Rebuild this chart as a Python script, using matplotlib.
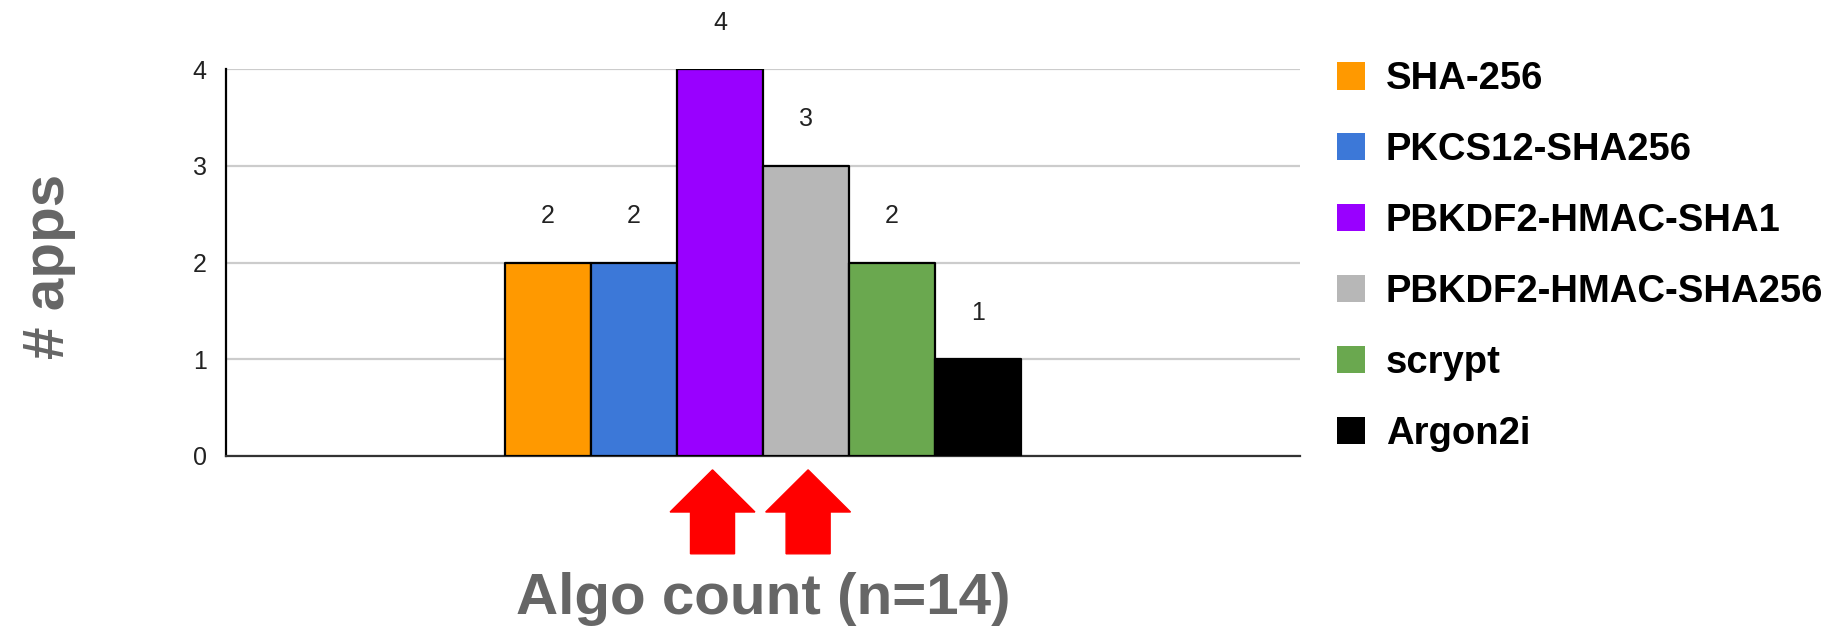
import numpy as np
import matplotlib.pyplot as plt
from matplotlib.patches import FancyArrow, Patch
import matplotlib.transforms as mtransforms

plt.rcParams['font.family'] = ['Liberation Sans', 'DejaVu Sans']

algos = ['SHA-256', 'PKCS12-SHA256', 'PBKDF2-HMAC-SHA1', 'PBKDF2-HMAC-SHA256', 'scrypt', 'Argon2i']
counts = [2, 2, 4, 3, 2, 1]
colors = ['#ff9900', '#3c78d8', '#9900ff', '#b7b7b7', '#6aa84f', '#000000']
highlighted = ['PBKDF2-HMAC-SHA1', 'PBKDF2-HMAC-SHA256']
arrow_nudge = [-0.007, 0.002]

fig = plt.figure(figsize=(18.37, 6.28), dpi=100)
ax = fig.add_axes([0.123, 0.274, 0.5847, 0.616])

bw = 0.08
offsets = (np.arange(len(algos)) - (len(algos) - 1) / 2) * bw
for x, v, c in zip(offsets, counts, colors):
    ax.bar(x, v, width=bw, color=c, edgecolor='black', linewidth=1.6, joinstyle='round', zorder=3)
    ax.text(x, v + 0.48, str(v), ha='center', va='center', fontsize=18, color='#222222', clip_on=False)

ax.set_xlim(-0.5, 0.5)
ax.set_ylim(0, 4)
ax.set_yticks([0, 1, 2, 3, 4])
ax.set_xticks([])
ax.grid(axis='y', color='#cccccc', linewidth=1.6, zorder=0)
ax.tick_params(axis='y', length=0, pad=14, labelsize=18, labelcolor='#222222')
for side in ['top', 'right']:
    ax.spines[side].set_visible(False)
ax.spines['left'].set_linewidth(1.6)
ax.spines['bottom'].set_linewidth(1.6)
ax.spines['bottom'].set_color('#333333')

ax.set_ylabel('# apps', fontsize=42, fontweight='bold', color='#666666')
ax.yaxis.set_label_coords(-0.140, 0.49)
ax.set_xlabel('Algo count (n=14)', fontsize=42, fontweight='bold', color='#666666', va='top')
ax.xaxis.set_label_coords(0.5, -0.30)

# red arrows under the PBKDF2 bars
trans = mtransforms.blended_transform_factory(ax.transData, ax.transAxes)
for name, dx in zip(highlighted, arrow_nudge):
    x = offsets[algos.index(name)] + dx
    arr = FancyArrow(x, -0.253, 0, 0.217, width=0.041, head_width=0.079, head_length=0.109,
                     length_includes_head=True, color='#ff0000', transform=trans, clip_on=False)
    ax.add_patch(arr)

handles = [Patch(facecolor=c, edgecolor='none', label=n) for c, n in zip(colors, algos)]
ax.legend(handles=handles, loc='upper left', bbox_to_anchor=(1.02, 1.06), frameon=False,
          prop={'weight': 'bold', 'size': 27.5}, handlelength=0.73, handleheight=0.73,
          handletextpad=0.55, labelspacing=0.915, borderaxespad=0)

fig.savefig('out.png', dpi=100)
